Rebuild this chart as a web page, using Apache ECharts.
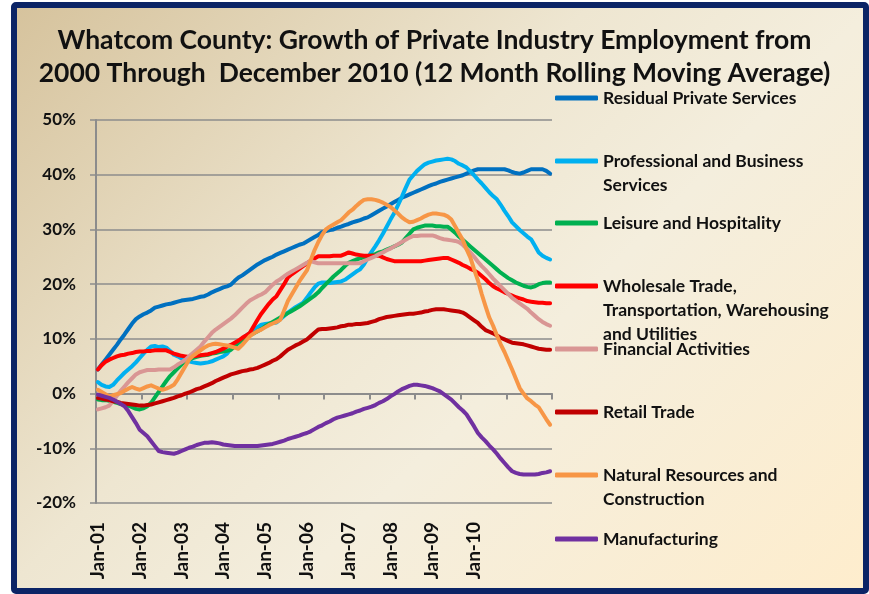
<!DOCTYPE html>
<html>
<head>
<meta charset="utf-8">
<script src="https://cdn.jsdelivr.net/npm/echarts@6/dist/echarts.min.js"></script>
<style>
  html, body { margin: 0; padding: 0; background: #fff; }
  #wrap { position: relative; width: 869px; height: 594px; overflow: hidden; }
  #frame {
    position: absolute; left: 11px; top: 2px; width: 858px; height: 592px;
    box-sizing: border-box; border: 6px solid #0B2466; border-radius: 5px;
    background: linear-gradient(135deg, #D6C39D 0%, #EEE6D1 40%, #F4EEDD 60%, #FEEDCD 100%);
  }
  #chart { position: absolute; left: 0; top: 0; width: 869px; height: 594px; }
</style>
</head>
<body>
<div id="wrap">
  <div id="frame"></div>
  <div id="chart"></div>
</div>
<script>
// months Jan-01 .. Dec-10
const monthNames = ['Jan', 'Feb', 'Mar', 'Apr', 'May', 'Jun', 'Jul', 'Aug', 'Sep', 'Oct', 'Nov', 'Dec'];
const years = ['01', '02', '03', '04', '05', '06', '07', '08', '09', '10'];
const months = [];
years.forEach(y => monthNames.forEach(m => months.push(m + '-' + y)));

// labels as printed under the axis
const tickLabels = ['Jan-01', 'Jan-02', 'Jan-03', 'Jan-04', 'Jan-05', 'Jan-06', 'Jan-07', 'Jan-08', 'Jan-09', 'Jan-10'];

const residual = [
  4.4, 5.3, 6.2, 7.1, 8.0, 8.9, 9.9, 10.8, 11.8, 12.8, 13.6, 14.1,
  14.5, 14.8, 15.2, 15.7, 15.9, 16.1, 16.3, 16.4, 16.6, 16.8, 17.0, 17.1,
  17.2, 17.3, 17.5, 17.7, 17.8, 18.1, 18.5, 18.8, 19.1, 19.4, 19.6, 19.9,
  20.6, 21.2, 21.6, 22.1, 22.6, 23.1, 23.6, 24.0, 24.4, 24.7, 25.0, 25.4,
  25.7, 26.0, 26.3, 26.6, 26.9, 27.2, 27.4, 27.8, 28.2, 28.6, 29.0, 29.5,
  29.7, 29.9, 30.0, 30.3, 30.5, 30.8, 31.0, 31.3, 31.5, 31.7, 32.0, 32.2,
  32.6, 33.0, 33.4, 33.8, 34.2, 34.6, 35.0, 35.4, 35.8, 36.1, 36.4, 36.7,
  37.0, 37.3, 37.6, 37.9, 38.2, 38.4, 38.7, 38.9, 39.1, 39.3, 39.5, 39.7,
  39.9, 40.2, 40.5, 40.8, 41.0, 41.0, 41.0, 41.0, 41.0, 41.0, 41.0, 41.0,
  40.8, 40.5, 40.3, 40.2, 40.4, 40.7, 41.0, 41.0, 41.0, 41.0, 40.7, 40.2
];
const professional = [
  2.1, 1.6, 1.3, 1.2, 1.6, 2.4, 3.1, 3.8, 4.4, 5.0, 5.7, 6.5,
  7.3, 8.0, 8.6, 8.7, 8.5, 8.6, 8.4, 7.8, 7.1, 6.8, 6.4, 6.1,
  5.9, 5.7, 5.6, 5.5, 5.6, 5.7, 5.9, 6.2, 6.5, 6.8, 7.3, 8.2,
  8.8, 9.3, 10.0, 10.6, 11.1, 11.6, 12.1, 12.6, 12.7, 12.8, 12.9, 13.0,
  13.6, 14.2, 14.8, 15.3, 15.8, 16.2, 16.6, 17.5, 18.5, 19.4, 20.1, 20.3,
  20.3, 20.2, 20.3, 20.4, 20.5, 20.8, 21.3, 21.8, 22.3, 22.7, 23.6, 24.8,
  25.9, 26.9, 28.0, 29.2, 30.5, 31.8, 33.0, 34.5, 36.0, 37.6, 39.1, 39.9,
  40.7, 41.3, 41.9, 42.2, 42.4, 42.6, 42.7, 42.8, 42.9, 42.8, 42.5, 42.0,
  41.7, 41.3, 40.6, 39.9, 39.1, 38.4, 37.6, 36.8, 36.1, 35.5, 34.5, 33.4,
  32.4, 31.3, 30.6, 29.9, 29.3, 28.7, 28.2, 27.0, 25.8, 25.2, 24.8, 24.5
];
const leisure = [
  -1.1, -1.2, -1.2, -1.3, -1.5, -1.7, -1.9, -2.0, -2.2, -2.5, -2.8, -2.9,
  -2.7, -2.3, -1.7, -0.7, 0.3, 1.3, 2.3, 3.2, 3.9, 4.6, 5.3, 5.9,
  6.2, 6.5, 6.7, 6.9, 7.0, 7.1, 7.3, 7.4, 7.6, 7.7, 7.8, 8.0,
  8.6, 9.3, 9.9, 10.3, 10.7, 11.0, 11.4, 11.8, 12.3, 12.7, 13.1, 13.5,
  13.9, 14.3, 14.7, 15.1, 15.5, 15.9, 16.4, 16.9, 17.4, 17.9, 18.5, 19.3,
  20.0, 20.7, 21.4, 22.0, 22.6, 23.3, 23.9, 24.2, 24.5, 24.7, 24.9, 25.1,
  25.3, 25.5, 25.8, 26.0, 26.3, 26.6, 26.9, 27.2, 27.6, 28.4, 29.2, 30.0,
  30.3, 30.5, 30.7, 30.7, 30.7, 30.6, 30.6, 30.5, 30.5, 30.0, 29.4, 28.7,
  28.1, 27.5, 26.9, 26.3, 25.7, 25.1, 24.5, 23.9, 23.3, 22.7, 22.1, 21.6,
  21.1, 20.7, 20.3, 20.0, 19.7, 19.5, 19.4, 19.6, 20.0, 20.2, 20.3, 20.3
];
const wholesale = [
  4.4, 5.2, 5.8, 6.2, 6.5, 6.8, 7.0, 7.1, 7.3, 7.4, 7.6, 7.7,
  7.7, 7.8, 7.8, 7.9, 7.9, 7.9, 7.9, 7.6, 7.3, 7.1, 6.9, 6.8,
  6.7, 6.8, 6.9, 7.0, 7.1, 7.2, 7.4, 7.6, 7.9, 8.2, 8.6, 8.9,
  9.3, 9.7, 10.2, 10.6, 11.1, 12.3, 13.5, 14.6, 15.5, 16.4, 17.2, 17.8,
  18.9, 20.0, 21.2, 21.8, 22.3, 22.8, 23.3, 23.8, 24.3, 24.7, 25.1, 25.1,
  25.1, 25.1, 25.2, 25.2, 25.2, 25.5, 25.8, 25.6, 25.4, 25.3, 25.2, 25.2,
  25.2, 25.2, 25.2, 24.9, 24.6, 24.4, 24.2, 24.2, 24.2, 24.2, 24.2, 24.2,
  24.2, 24.2, 24.3, 24.4, 24.5, 24.6, 24.7, 24.8, 24.8, 24.5, 24.2, 23.9,
  23.5, 23.2, 22.8, 22.5, 22.1, 21.5, 20.9, 20.2, 19.6, 19.2, 18.9, 18.5,
  18.2, 17.9, 17.6, 17.4, 17.2, 16.9, 16.8, 16.7, 16.6, 16.6, 16.5, 16.5
];
const financial = [
  -2.9, -2.7, -2.5, -2.2, -1.3, -0.4, 0.5, 1.3, 2.1, 2.8, 3.5, 3.9,
  4.1, 4.3, 4.3, 4.3, 4.4, 4.4, 4.4, 4.4, 4.8, 5.3, 5.7, 6.2,
  6.8, 7.4, 8.0, 8.6, 9.5, 10.3, 11.1, 11.7, 12.2, 12.7, 13.2, 13.7,
  14.3, 15.0, 15.7, 16.4, 17.0, 17.4, 17.8, 18.1, 18.5, 19.2, 19.9, 20.5,
  20.9, 21.4, 21.9, 22.3, 22.7, 23.1, 23.5, 23.9, 24.2, 24.0, 23.8, 23.8,
  23.8, 23.8, 23.8, 23.8, 23.8, 23.8, 23.8, 23.8, 23.8, 23.8, 24.2, 24.5,
  24.8, 25.1, 25.5, 25.8, 26.2, 26.5, 26.9, 27.3, 27.7, 28.1, 28.5, 28.8,
  28.8, 28.9, 28.9, 28.9, 28.9, 28.7, 28.4, 28.2, 28.1, 28.0, 27.9, 27.7,
  27.2, 26.5, 25.8, 25.0, 24.1, 23.3, 22.6, 21.8, 21.0, 20.3, 19.6, 18.9,
  18.2, 17.5, 17.0, 16.5, 16.0, 15.5, 14.8, 14.2, 13.6, 13.1, 12.7, 12.4
];
const retail = [
  -0.8, -0.9, -1.1, -1.2, -1.4, -1.5, -1.7, -1.8, -1.9, -2.0, -2.1, -2.2,
  -2.2, -2.1, -2.0, -1.8, -1.6, -1.4, -1.2, -1.0, -0.8, -0.5, -0.3, 0.0,
  0.2, 0.5, 0.8, 1.0, 1.3, 1.6, 1.9, 2.3, 2.6, 2.9, 3.2, 3.5,
  3.7, 3.9, 4.1, 4.2, 4.4, 4.5, 4.7, 5.0, 5.3, 5.6, 6.0, 6.3,
  6.8, 7.4, 8.0, 8.4, 8.8, 9.1, 9.5, 9.9, 10.5, 11.1, 11.7, 11.8,
  11.8, 11.9, 12.0, 12.1, 12.3, 12.4, 12.6, 12.6, 12.7, 12.7, 12.8, 12.9,
  13.1, 13.3, 13.6, 13.8, 14.0, 14.1, 14.2, 14.3, 14.4, 14.5, 14.6, 14.6,
  14.7, 14.8, 15.0, 15.1, 15.3, 15.4, 15.4, 15.4, 15.3, 15.2, 15.1, 15.0,
  14.8, 14.4, 13.9, 13.4, 12.9, 12.2, 11.6, 11.3, 11.0, 10.6, 10.2, 9.9,
  9.6, 9.3, 9.2, 9.1, 9.0, 8.8, 8.6, 8.4, 8.2, 8.1, 8.0, 8.0
];
const naturalRes = [
  0.7, 0.3, -0.1, -0.5, -0.3, -0.1, 0.1, 0.5, 0.9, 1.2, 0.9, 0.7,
  1.0, 1.3, 1.5, 1.2, 0.9, 0.7, 0.9, 1.2, 1.6, 2.6, 3.8, 5.0,
  6.2, 6.9, 7.4, 7.9, 8.4, 8.8, 9.0, 9.1, 9.0, 8.9, 8.8, 8.6,
  8.4, 8.2, 8.9, 9.7, 10.5, 11.0, 11.4, 11.7, 12.1, 12.5, 12.8, 13.1,
  13.5, 15.2, 16.9, 18.1, 19.3, 20.5, 21.5, 22.5, 24.4, 26.2, 27.7, 29.0,
  30.0, 30.5, 30.9, 31.3, 31.7, 32.4, 33.1, 33.6, 34.3, 34.9, 35.4, 35.5,
  35.5, 35.4, 35.2, 34.9, 34.5, 34.1, 33.5, 32.9, 32.2, 31.7, 31.3, 31.4,
  31.7, 32.0, 32.4, 32.7, 32.9, 32.9, 32.8, 32.7, 32.4, 31.8, 30.6, 29.3,
  28.1, 26.4, 24.9, 22.7, 20.7, 18.2, 16.0, 13.9, 12.4, 10.6, 9.0, 7.6,
  6.0, 4.4, 2.7, 1.0, 0.0, -0.9, -1.4, -2.0, -2.5, -3.6, -4.7, -5.7
];
const manufacturing = [
  -0.2, -0.4, -0.6, -0.8, -1.1, -1.5, -1.9, -2.3, -3.2, -4.3, -5.4, -6.6,
  -7.2, -7.8, -8.7, -9.6, -10.5, -10.7, -10.8, -10.9, -11.0, -10.8, -10.5, -10.2,
  -9.9, -9.7, -9.4, -9.2, -9.0, -9.0, -8.9, -9.0, -9.1, -9.3, -9.4, -9.5,
  -9.6, -9.6, -9.6, -9.6, -9.6, -9.6, -9.6, -9.5, -9.4, -9.3, -9.2, -9.0,
  -8.8, -8.6, -8.3, -8.1, -7.9, -7.7, -7.4, -7.2, -6.9, -6.5, -6.1, -5.8,
  -5.4, -5.1, -4.7, -4.4, -4.2, -4.0, -3.8, -3.6, -3.3, -3.1, -2.8, -2.6,
  -2.4, -2.1, -1.7, -1.4, -1.0, -0.5, -0.1, 0.4, 0.8, 1.1, 1.4, 1.6,
  1.6, 1.5, 1.4, 1.2, 1.0, 0.7, 0.4, -0.1, -0.6, -1.1, -1.8, -2.5,
  -3.1, -3.8, -4.9, -6.0, -7.2, -8.0, -8.7, -9.5, -10.2, -11.0, -11.9, -12.7,
  -13.5, -14.2, -14.5, -14.7, -14.8, -14.8, -14.8, -14.8, -14.7, -14.5, -14.4, -14.2
];

const seriesNames = [
  'Residual Private Services',
  'Professional and Business Services',
  'Leisure and Hospitality',
  'Wholesale Trade, Transportation, Warehousing and Utilities',
  'Financial Activities',
  'Retail Trade',
  'Natural Resources and Construction',
  'Manufacturing'
];
const seriesData = [residual, professional, leisure, wholesale, financial, retail, naturalRes, manufacturing];
const colors = ['#0070C0', '#00B0F0', '#00B050', '#FF0000', '#D99694', '#C00000', '#F79646', '#7030A0'];
// legend text lines as wrapped in the picture
const legendLines = [
  ['Residual Private Services'],
  ['Professional and Business', 'Services'],
  ['Leisure and Hospitality'],
  ['Wholesale Trade,', 'Transportation, Warehousing', 'and Utilities'],
  ['Financial Activities'],
  ['Retail Trade'],
  ['Natural Resources and', 'Construction'],
  ['Manufacturing']
];
const legendY = [98, 161, 223, 286, 349, 412, 475, 539];

const FONT = 'Lato, "Open Sans", sans-serif';
const lineH = 24;

const chart = echarts.init(document.getElementById('chart'));

const legends = seriesNames.map((name, i) => ({
  data: [name],
  left: 555,
  top: legendY[i] - 10,
  padding: 0,
  icon: 'roundRect',
  itemWidth: 43,
  itemHeight: 5,
  selectedMode: false,
  formatter: () => legendLines[i][0],
  textStyle: { fontFamily: FONT, fontWeight: 'bold', fontSize: 17.5, color: '#111', lineHeight: 20 }
}));

const extraText = [];
legendLines.forEach((lines, i) => {
  lines.slice(1).forEach((txt, k) => {
    extraText.push({
      type: 'text',
      left: 603,
      top: legendY[i] + (k + 1) * lineH - 10,
      style: { text: txt, font: 'bold 17.5px ' + FONT, fill: '#111', lineHeight: 20 }
    });
  });
});

const option = {
  backgroundColor: 'transparent',
  animation: false,
  title: {
    text: 'Whatcom County: Growth of Private Industry Employment from\n2000 Through  December 2010 (12 Month Rolling Moving Average)',
    left: 'center',
    top: 19,
    textStyle: { fontFamily: FONT, fontWeight: 'bold', fontSize: 26.5, lineHeight: 33, color: '#111' }
  },
  legend: legends,
  graphic: extraText,
  grid: { left: 96, right: 317, top: 120, bottom: 91 },
  xAxis: [{
    type: 'category',
    data: months,
    boundaryGap: true,
    axisLine: { show: false, onZero: false },
    axisTick: { show: false },
    splitLine: { show: false },
    axisLabel: {
      rotate: 90,
      margin: 19,
      interval: (index) => index % 11 === 0 && index / 11 < tickLabels.length,
      formatter: (value, index) => tickLabels[index / 11],
      fontFamily: FONT, fontWeight: 'bold', fontSize: 19, color: '#111'
    }
  }, {
    type: 'category',
    data: months,
    position: 'bottom',
    boundaryGap: true,
    axisLine: { show: true, onZero: true, lineStyle: { color: '#8C8C8C', width: 2 } },
    axisTick: { show: true, interval: 11, length: 6, lineStyle: { color: '#8C8C8C', width: 2 } },
    axisLabel: { show: false },
    splitLine: { show: false }
  }],
  yAxis: {
    type: 'value',
    min: -20,
    max: 50,
    interval: 10,
    axisLine: { show: true, lineStyle: { color: '#8C8C8C', width: 2 } },
    axisTick: { show: true, length: 6, lineStyle: { color: '#8C8C8C', width: 1.5 } },
    splitLine: { lineStyle: { color: '#8C8C8C', width: 1.5 } },
    axisLabel: {
      formatter: '{value}%',
      margin: 20,
      fontFamily: FONT, fontWeight: 'bold', fontSize: 17, color: '#111'
    }
  },
  series: seriesNames.map((name, i) => ({
    name,
    type: 'line',
    data: seriesData[i],
    symbol: 'none',
    color: colors[i],
    lineStyle: { width: 4, color: colors[i], cap: 'round', join: 'round' }
  }))
};

chart.setOption(option);
</script>
</body>
</html>
